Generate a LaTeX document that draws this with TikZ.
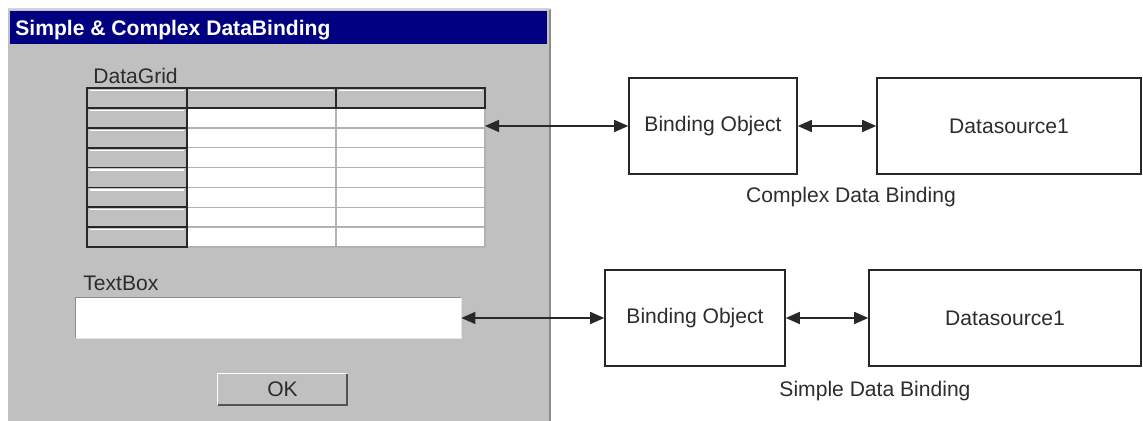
\documentclass[tikz,border=0pt]{standalone}
\usepackage{fontspec}
\setmainfont{Liberation Sans}
\usepackage{tikz}
\usetikzlibrary{arrows.meta, positioning, calc}
\definecolor{mynavy}{RGB}{0,0,128}
\definecolor{mypanel}{RGB}{192,192,192}
\definecolor{mytext}{RGB}{45,45,45}
\definecolor{mydark}{RGB}{40,40,40}
\definecolor{mylight}{RGB}{178,178,178}
\definecolor{myedge}{RGB}{140,140,140}
\tikzset{
  box/.style={rectangle, draw=mydark, fill=white, line width=0.9pt,
    minimum height=1.92cm, inner sep=0pt,
    font=\fontsize{12}{14}\selectfont, text=mytext},
  lbl/.style={inner sep=0pt, font=\fontsize{12}{14}\selectfont, text=mytext},
  darkline/.style={draw=mydark, line width=1pt},
  lightline/.style={draw=mylight, line width=0.8pt},
  dblarrow/.style={{Triangle[length=0.28cm,width=0.24cm]}-{Triangle[length=0.28cm,width=0.24cm]},
    line width=0.8pt, color=mydark}
}

\begin{document}
\begin{tikzpicture}[x=0.02cm, y=-0.02cm]
  \useasboundingbox (0,0) rectangle (1143,421);
  % dialog window
  \fill[mypanel] (8,9) rectangle (550,421);
  \draw[myedge, line width=1pt] (550,9) -- (550,421);
  \draw[mypanel!70!white, line width=0.6pt] (8,9) -- (550,9);
  \fill[mynavy] (10,11) rectangle (547,44);
  \node[lbl, anchor=base west, text=white, font=\bfseries\fontsize{12}{14}\selectfont] (title) at (15,36) {Simple \& Complex DataBinding};
  % data grid
  \node[lbl, anchor=base west] (gridlbl) at (93,84) {DataGrid};
  \fill[mypanel] (87,88) rectangle (485,108);
  \fill[mypanel] (87,108) rectangle (187,247);
  \fill[white] (187,108) rectangle (485,247);
  \foreach \r in {1,...,7} {
    \pgfmathsetmacro\ya{108+(\r-1)*19.857}
    \pgfmathsetmacro\yb{108+\r*19.857}
    \draw[lightline] (187,\yb) -- (485,\yb);
    \draw[white, line width=0.7pt] (90,\ya+2.5) -- (184,\ya+2.5);
    \draw[darkline] (87,\yb) -- (187,\yb);
  }
  \draw[lightline] (336,108) -- (336,247) (485,108) -- (485,247);
  \foreach \xa/\xb in {87/187, 187/336, 336/485}
    \draw[white, line width=0.7pt] (\xa+3,90.5) -- (\xb-3,90.5);
  \draw[darkline] (87,88) rectangle (485,108);
  \draw[darkline] (187,88) -- (187,108) (336,88) -- (336,108);
  \draw[darkline] (87,108) rectangle (187,247);
  \coordinate (gridR) at (485,126);
  % text box and button
  \node[lbl, anchor=base west] (tblbl) at (83,291) {TextBox};
  \node[rectangle, fill=white, minimum width=7.7cm, minimum height=0.8cm, inner sep=0pt] (tbox) at (268.5,318) {};
  \draw[myedge, line width=0.8pt] (tbox.south west) |- (tbox.north east);
  \draw[white!90!black, line width=0.8pt] (tbox.south west) -| (tbox.north east);
  \node[rectangle, fill=mypanel, minimum width=2.58cm, minimum height=0.62cm, inner sep=0pt,
    font=\fontsize{12}{14}\selectfont, text=mytext] (ok) at (282.5,389.5) {OK};
  \draw[white, line width=0.8pt] (ok.south west) |- (ok.north east);
  \draw[mydark!80, line width=1pt] (ok.south west) -| (ok.north east);
  % complex binding
  \node[box, minimum width=3.36cm] (bind1) at (713,126) {Binding Object};
  \node[box, minimum width=5.28cm] (src1) at (1009,126) {Datasource1};
  \node[lbl, anchor=base] (cplx) at (851,203) {Complex Data Binding};
  \draw[dblarrow] (gridR) -- (bind1.west);
  \draw[dblarrow] (bind1) -- (src1);
  % simple binding
  \node[box, minimum width=3.6cm] (bind2) at (695,318) {Binding Object};
  \node[box, minimum width=5.44cm] (src2) at (1005,318) {Datasource1};
  \node[lbl, anchor=base] (smpl) at (875,397) {Simple Data Binding};
  \draw[dblarrow] (tbox.east) -- (bind2.west);
  \draw[dblarrow] (bind2) -- (src2);
\end{tikzpicture}
\end{document}
